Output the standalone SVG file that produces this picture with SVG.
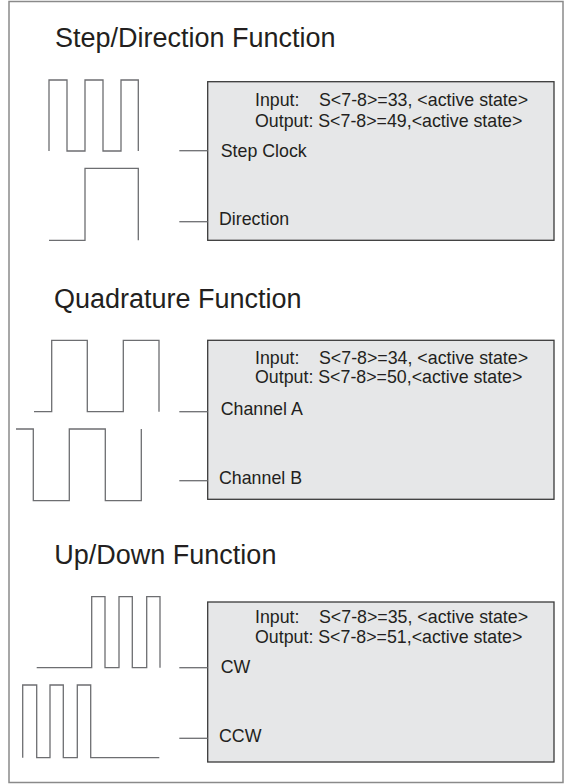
<svg xmlns="http://www.w3.org/2000/svg" width="567" height="784" viewBox="0 0 567 784">
<style>
.title{font-family:"Liberation Sans",Arial,sans-serif;font-size:27px;fill:#231f20}
.t{font-family:"Liberation Sans",Arial,sans-serif;font-size:17.8px;fill:#231f20}
.box{fill:#e6e7e8;stroke:#3a3a3a;stroke-width:1.3}
.wave{fill:none;stroke:#6d6e71;stroke-width:1.3}
.conn{fill:none;stroke:#6d6e71;stroke-width:1.3}
</style>
<rect x="9" y="1.5" width="554" height="781" fill="#ffffff" stroke="#8a8a8a" stroke-width="1.5"/>

<g id="section1">
<text class="title" x="55" y="46.5">Step/Direction Function</text>
<g id="wave-step"><path class="wave" d="M49,151 V80 H67 V151 H85 V80 H103 V151 H121 V80 H138.3 V151"/></g>
<g id="wave-dir"><path class="wave" d="M49,240.3 H85 V168.3 H138.3 V240.3"/></g>
<g id="box1">
<rect class="box" x="207.7" y="81.7" width="346.3" height="158.6"/>
<text class="t" x="255" y="106">Input:<tspan x="319">S&lt;7-8&gt;=33, &lt;active state&gt;</tspan></text>
<text class="t" x="255" y="126.7">Output: S&lt;7-8&gt;=49,&lt;active state&gt;</text>
<text class="t" x="220.7" y="156.7">Step Clock</text>
<text class="t" x="219" y="225">Direction</text>
</g>
</g>

<g id="section2">
<text class="title" x="54" y="308.3">Quadrature Function</text>
<g id="wave-a"><path class="wave" d="M34,411.7 H51.7 V340.3 H87.3 V411.7 H123.3 V340.3 H159 V411.7"/></g>
<g id="wave-b"><path class="wave" d="M16,429 H33.3 V500.7 H69.3 V429 H105.3 V500.7 H141.3 V429"/></g>
<g id="box2">
<rect class="box" x="207.7" y="340.3" width="346.3" height="159"/>
<text class="t" x="255" y="364">Input:<tspan x="319">S&lt;7-8&gt;=34, &lt;active state&gt;</tspan></text>
<text class="t" x="255" y="383.3">Output: S&lt;7-8&gt;=50,&lt;active state&gt;</text>
<text class="t" x="220.7" y="415">Channel A</text>
<text class="t" x="219" y="484.3">Channel B</text>
</g>
</g>

<g id="section3">
<text class="title" x="54.3" y="564.3">Up/Down Function</text>
<g id="wave-cw"><path class="wave" d="M36.7,667.7 H91.7 V596.7 H105 V667.7 H119 V596.7 H132.3 V667.7 H146.7 V596.7 H160 V667.7"/></g>
<g id="wave-ccw"><path class="wave" d="M22.7,757.7 V685 H36.7 V757.7 H50 V685 H63.3 V757.7 H77.3 V685 H90.7 V757.7 H159.3"/></g>
<g id="box3">
<rect class="box" x="207.7" y="602" width="346.3" height="160"/>
<text class="t" x="255" y="623.3">Input:<tspan x="319">S&lt;7-8&gt;=35, &lt;active state&gt;</tspan></text>
<text class="t" x="255" y="643.3">Output: S&lt;7-8&gt;=51,&lt;active state&gt;</text>
<text class="t" x="220.7" y="673.3">CW</text>
<text class="t" x="219" y="741.7">CCW</text>
</g>
</g>

<g id="connectors">
<line class="conn" x1="179.3" y1="150.7" x2="207.7" y2="150.7"/>
<line class="conn" x1="179.3" y1="221.7" x2="207.7" y2="221.7"/>
<line class="conn" x1="179.3" y1="411.7" x2="207.7" y2="411.7"/>
<line class="conn" x1="179.3" y1="480.7" x2="207.7" y2="480.7"/>
<line class="conn" x1="179.3" y1="667.7" x2="207.7" y2="667.7"/>
<line class="conn" x1="179.3" y1="738.3" x2="207.7" y2="738.3"/>
</g>
</svg>
